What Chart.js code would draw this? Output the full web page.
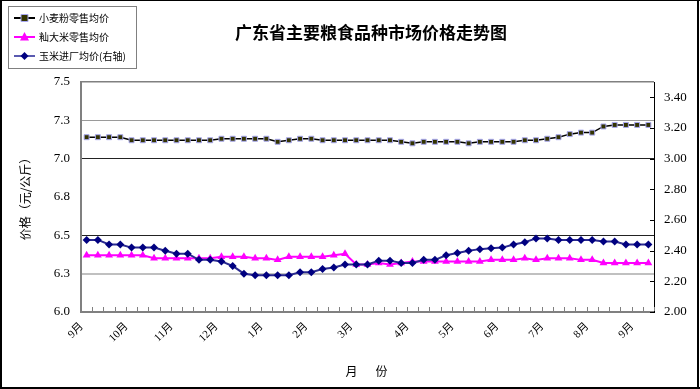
<!DOCTYPE html>
<html><head><meta charset="utf-8">
<script src="https://cdn.jsdelivr.net/npm/chart.js@4/dist/chart.umd.min.js"></script>
<style>html,body{margin:0;padding:0;background:#fff}#wrap{width:700px;height:389px;position:relative}canvas{display:block}</style>
</head><body><div id="wrap"><canvas id="c" width="700" height="389"></canvas></div>
<script>
// ---- data ----
const chartTitle = '广东省主要粮食品种市场价格走势图';
const yAxisTitle = '价格（元/公斤）';
const xAxisTitle = '月　份';
const seriesNames = ['小麦粉零售均价', '籼大米零售均价', '玉米进厂均价(右轴)'];
const monthLabels = ['9月','10月','11月','12月','1月','2月','3月','4月','5月','6月','7月','8月','9月'];
const monthPositions = [0,4,8,12,16,20,24,29,33,37,41,45,49];
const pointCount = 51;
const categories = [];
for (let i = 0; i < pointCount; i++) {
  const k = monthPositions.indexOf(i);
  categories.push(k >= 0 ? monthLabels[k] : '');
}
const wheat = [7.14,7.14,7.14,7.14, 7.12,7.12,7.12,7.12,7.12,7.12,7.12,7.12, 7.13,7.13,7.13,7.13,7.13, 7.11, 7.12, 7.13,7.13,
  7.12,7.12,7.12,7.12,7.12,7.12,7.12, 7.11, 7.10, 7.11,7.11,7.11,7.11, 7.10, 7.11,7.11,7.11,7.11, 7.12,7.12, 7.13, 7.14,
  7.16, 7.17, 7.17, 7.21, 7.22,7.22,7.22,7.22];
const rice = [6.37,6.37,6.37,6.37,6.37,6.37, 6.35,6.35,6.35,6.35,6.35,6.35, 6.36,6.36,6.36, 6.35,6.35, 6.34, 6.36,6.36,6.36,6.36,
  6.37, 6.38, 6.31,6.31, 6.32, 6.31, 6.32, 6.33,6.33,6.33,6.33,6.33,6.33,6.33, 6.34,6.34,6.34, 6.35, 6.34, 6.35,6.35,6.35,
  6.34,6.34, 6.32,6.32,6.32,6.32,6.32];
const corn = [2.47,2.47,2.44,2.44,2.42,2.42,2.42,2.40,2.38,2.38,
  2.34,2.34,2.33,2.30,2.25,2.24,2.24,2.24,2.24,2.26,
  2.26,2.28,2.29,2.31,2.31,2.31,2.335,2.335,2.32,2.32,
  2.34,2.34,2.37,2.385,2.40,2.41,2.415,2.42,2.44,2.455,
  2.48,2.48,2.47,2.47,2.47,2.47,2.46,2.46,2.44,2.44,2.44];
const leftTickValues = [6.0,6.25,6.5,6.75,7.0,7.25,7.5];
const leftTickLabels = ['6.0','6.3','6.5','6.8','7.0','7.3','7.5'];
const rightTickValues = [2.0,2.2,2.4,2.6,2.8,3.0,3.2,3.4];
const rightTickLabels = ['2.00','2.20','2.40','2.60','2.80','3.00','3.20','3.40'];

// ---- styles ----
const numFont = "'Liberation Serif','Noto Sans CJK SC'";
const cjkFont = "'Noto Sans CJK SC'";
const gridStyle = {7.5:['#808080',1.5], 7.25:['#9a9a9a',1], 7.0:['#222',1], 6.5:['#222',1], 6.25:['#c0c0c0',2]};

function drawMarker(ctx, style, x, y, r, fill, stroke, lw) {
  ctx.save();
  ctx.beginPath();
  if (style === 'rect') { ctx.rect(x - r, y - r, 2 * r, 2 * r); }
  else if (style === 'triangle') { ctx.moveTo(x, y - r * 1.1); ctx.lineTo(x + r, y + r * 0.8); ctx.lineTo(x - r, y + r * 0.8); ctx.closePath(); }
  else { ctx.moveTo(x, y - r); ctx.lineTo(x + r, y); ctx.lineTo(x, y + r); ctx.lineTo(x - r, y); ctx.closePath(); }
  ctx.fillStyle = fill; ctx.fill();
  if (lw) { ctx.lineWidth = lw; ctx.strokeStyle = stroke; ctx.stroke(); }
  ctx.restore();
}

const deco = {
  id: 'deco',
  beforeDraw(chart) {
    const c = chart.ctx;
    c.save(); c.fillStyle = '#fff'; c.fillRect(0, 0, chart.width, chart.height); c.restore();
  },
  afterDraw(chart) {
    const c = chart.ctx;
    const xs = chart.scales.x, y2 = chart.scales.y2;
    c.save();
    // inside ticks on x axis
    c.strokeStyle = '#808080'; c.lineWidth = 1;
    for (let i = 0; i <= pointCount; i++) {
      const px = Math.round(xs.getPixelForValue(i - 0.5)) + 0.5;
      c.beginPath(); c.moveTo(px, xs.top - 1); c.lineTo(px, xs.top - 5); c.stroke();
    }
    // inside ticks on right axis
    c.strokeStyle = '#000';
    y2.ticks.forEach(t => {
      const py = Math.round(y2.getPixelForValue(t.value)) + 0.5;
      c.beginPath(); c.moveTo(y2.left - 4, py); c.lineTo(y2.left, py); c.stroke();
    });
    // outer frame
    c.fillStyle = '#000';
    c.fillRect(0, 0, 700, 1); c.fillRect(0, 387, 700, 2); c.fillRect(0, 0, 2, 389); c.fillRect(697, 0, 2, 389);
    // title
    c.fillStyle = '#000';
    c.font = "bold 17px " + cjkFont; c.textAlign = 'center'; c.textBaseline = 'middle';
    c.fillText(chartTitle, 371, 33);
    // y title
    c.save(); c.translate(25, 196); c.rotate(-Math.PI / 2);
    c.font = "12px " + cjkFont; c.fillText(yAxisTitle, 0, 0); c.restore();
    // x title
    c.font = "12px " + cjkFont;
    try { c.letterSpacing = '3px'; } catch (e) {}
    c.fillText(xAxisTitle, 368, 371);
    try { c.letterSpacing = '0px'; } catch (e) {}
    // legend
    c.strokeStyle = '#808080'; c.lineWidth = 1;
    c.strokeRect(8.5, 6.5, 128, 62);
    const ly = [18, 37, 56];
    chart.data.datasets.forEach((ds, i) => {
      c.strokeStyle = ds.legendLine; c.lineWidth = 2;
      c.beginPath(); c.moveTo(14, ly[i]); c.lineTo(35, ly[i]); c.stroke();
      drawMarker(c, ds.pointStyle, 24.5, ly[i], ds.pointRadius, ds.pointBackgroundColor, ds.pointBorderColor, ds.pointBorderWidth);
      c.fillStyle = '#000'; c.font = "10px " + cjkFont; c.textAlign = 'left'; c.textBaseline = 'middle';
      c.fillText(ds.label, 39, ly[i] + 0.5);
    });
    c.restore();
  }
};

new Chart(document.getElementById('c'), {
  type: 'line',
  data: {
    labels: categories,
    datasets: [
      { label: seriesNames[0], data: wheat, yAxisID: 'y', borderColor: '#000', borderWidth: 1.5, legendLine: '#000',
        pointStyle: 'rect', pointRadius: 3.5, pointBackgroundColor: '#333300', pointBorderColor: '#a8a8f0', pointBorderWidth: 1, order: 3 },
      { label: seriesNames[1], data: rice, yAxisID: 'y', borderColor: '#ff00ff', borderWidth: 2, legendLine: '#ff00ff',
        pointStyle: 'triangle', pointRadius: 4.5, pointBackgroundColor: '#ff00ff', pointBorderColor: '#ff00ff', pointBorderWidth: 0, order: 2 },
      { label: seriesNames[2], data: corn, yAxisID: 'y2', borderColor: '#2a2a90', borderWidth: 2, legendLine: '#5a5ab0',
        pointStyle: 'rectRot', pointRadius: 4, pointBackgroundColor: '#000080', pointBorderColor: '#000080', pointBorderWidth: 0, order: 1 }
    ]
  },
  options: {
    responsive: false, animation: false, devicePixelRatio: 1,
    layout: { padding: { left: 0, right: 0, top: 82, bottom: 0 } },
    elements: { line: { tension: 0 } },
    plugins: { legend: { display: false }, tooltip: { enabled: false }, title: { display: false } },
    scales: {
      x: {
        offset: true,
        grid: { display: false, drawTicks: false, offset: true },
        border: { color: '#808080', width: 2 },
        ticks: { autoSkip: false, maxRotation: 45, minRotation: 45, color: '#000', padding: 8, labelOffset: -5,
                 font: { family: numFont, size: 11 } },
        afterFit(s) { s.height = 77; }
      },
      y: {
        position: 'left', min: 6, max: 7.5,
        afterBuildTicks(s) { s.ticks = leftTickValues.map(v => ({ value: v })); },
        ticks: { callback: (v, i) => leftTickLabels[i], padding: 11, color: '#000', font: { family: numFont, size: 13 } },
        grid: { drawTicks: false,
          color: ctx => (gridStyle[ctx.tick && ctx.tick.value] || ['rgba(0,0,0,0)', 1])[0],
          lineWidth: ctx => (gridStyle[ctx.tick && ctx.tick.value] || ['rgba(0,0,0,0)', 1])[1] },
        border: { color: '#808080', width: 2 },
        afterFit(s) { s.width = 81; }
      },
      y2: {
        position: 'right', min: 2, max: 3.5,
        afterBuildTicks(s) { s.ticks = rightTickValues.map(v => ({ value: v })); },
        ticks: { callback: (v, i) => rightTickLabels[i], padding: 10, color: '#000', font: { family: numFont, size: 13 } },
        grid: { drawOnChartArea: false, drawTicks: false },
        border: { color: '#000', width: 1 },
        afterFit(s) { s.width = 46; }
      }
    }
  },
  plugins: [deco]
});
</script>
</body></html>
